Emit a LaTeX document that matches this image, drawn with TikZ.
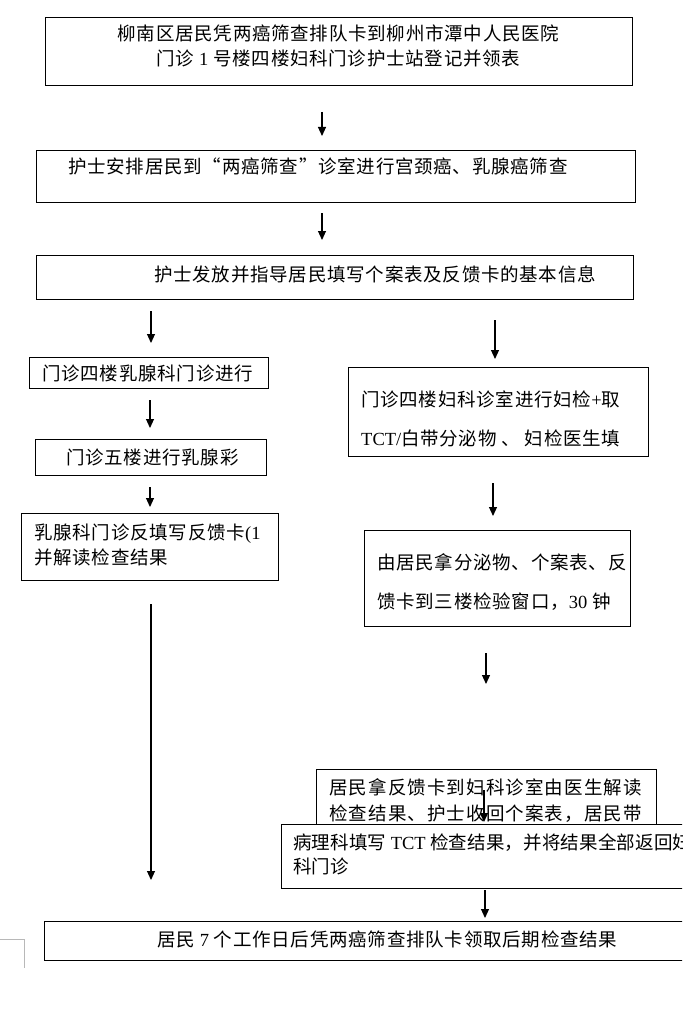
\documentclass[tikz,border=0pt]{standalone}
\usepackage{fontspec}
\setmainfont{Noto Sans CJK SC}[LetterSpace=4]
\newfontfamily\latf{Liberation Serif}
\newcommand\lat[1]{{\latf #1}}
\usetikzlibrary{arrows.meta}
\begin{document}
\begin{tikzpicture}[x=1pt,y=-1pt,
  box/.style={draw, line width=1.1pt, fill=white, inner sep=0pt, anchor=north west},
  txt/.style={inner sep=0pt, anchor=base west, font=\fontsize{18.5}{22}\selectfont},
  ctxt/.style={txt, anchor=base},
  widetxt/.style={txt, font=\fontsize{18.5}{22}\selectfont\addfontfeature{LetterSpace=6}},
  narrowtxt/.style={txt, font=\fontsize{18.5}{22}\selectfont\addfontfeature{LetterSpace=1}},
  arr/.style={-{Triangle[length=9pt,width=8pt]}, line width=1.1pt},
  cornermark/.style={draw=black!28, line width=0.8pt}]
\useasboundingbox (0,0) rectangle (682,1027);
\clip (0,0) rectangle (682,1027);
\fill[white] (0,0) rectangle (682,1027);

% top boxes
\node[box, minimum width=587pt, minimum height=68pt] (b1) at (45,17) {};
\node[ctxt] (t1a) at (338.5,41) {柳南区居民凭两癌筛查排队卡到柳州市潭中人民医院};
\node[ctxt] (t1b) at (338.5,66) {门诊 \lat{1} 号楼四楼妇科门诊护士站登记并领表};

\node[box, minimum width=599pt, minimum height=52pt] (b2) at (36,150) {};
\node[txt] (t2) at (68,174) {护士安排居民到“两癌筛查”诊室进行宫颈癌、乳腺癌筛查};

\node[box, minimum width=597pt, minimum height=44pt] (b3) at (36,255) {};
\node[txt] (t3) at (154,281) {护士发放并指导居民填写个案表及反馈卡的基本信息};

% left column
\node[box, minimum width=239pt, minimum height=31pt] (l1) at (29,357) {};
\node[txt] (tl1) at (42,380) {门诊四楼乳腺科门诊进行};

\node[box, minimum width=231pt, minimum height=36pt] (l2) at (35,439) {};
\node[txt] (tl2) at (66,464) {门诊五楼进行乳腺彩};

\node[box, minimum width=257pt, minimum height=67pt] (l3) at (21,513) {};
\node[txt] (tl3a) at (34,539) {乳腺科门诊反填写反馈卡\lat{(1}};
\node[txt] (tl3b) at (34,564) {并解读检查结果};

% right column
\node[box, minimum width=300pt, minimum height=89pt] (r1) at (348,367) {};
\node[txt] (tr1a) at (361,406) {门诊四楼妇科诊室进行妇检\lat{+}取};
\node[txt] (tr1b) at (361,445) {\lat{TCT/}白带分泌物 、 妇检医生填};

\node[box, minimum width=266pt, minimum height=96pt] (r2) at (364,530) {};
\node[txt] (tr2a) at (377,569) {由居民拿分泌物、个案表、反};
\node[txt] (tr2b) at (377,608) {馈卡到三楼检验窗口，\lat{30} 钟};

\node[box, minimum width=340pt, minimum height=70pt] (r3) at (316,769) {};
\node[widetxt] (tr3a) at (329,794) {居民拿反馈卡到妇科诊室由医生解读};
\node[widetxt] (tr3b) at (329,820) {检查结果、护士收回个案表，居民带};

\node[box, minimum width=440pt, minimum height=64pt] (r4) at (281,824) {};
\node[narrowtxt] (tr4a) at (293,849) {病理科填写 \lat{TCT} 检查结果，并将结果全部返回妇};
\node[narrowtxt] (tr4b) at (293,873) {科门诊};

% bottom box
\node[box, minimum width=700pt, minimum height=39pt] (bt) at (44,921) {};
\node[txt] (tb) at (157,946) {居民 \lat{7} 个工作日后凭两癌筛查排队卡领取后期检查结果};

% arrows (free-standing, as in the reference)
\coordinate (a1s) at (322,112); \coordinate (a1e) at (322,136);
\coordinate (a2s) at (322,213); \coordinate (a2e) at (322,240);
\coordinate (aL0s) at (151,311); \coordinate (aL0e) at (151,343);
\coordinate (aR0s) at (495,320); \coordinate (aR0e) at (495,359);
\coordinate (aL1s) at (150,400); \coordinate (aL1e) at (150,428);
\coordinate (aL2s) at (150,487); \coordinate (aL2e) at (150,507);
\coordinate (aL3s) at (151,604); \coordinate (aL3e) at (151,880);
\coordinate (aR1s) at (493,483); \coordinate (aR1e) at (493,516);
\coordinate (aR2s) at (486,653); \coordinate (aR2e) at (486,684);
\coordinate (aR3s) at (484,790); \coordinate (aR3e) at (484,822);
\coordinate (aR4s) at (485,890); \coordinate (aR4e) at (485,918);
\foreach \a in {a1,a2,aL0,aR0,aL1,aL2,aL3,aR1,aR2,aR3,aR4}
  \draw[arr] (\a s) -- (\a e);

% corner mark
\coordinate (m1) at (0,939); \coordinate (m2) at (24,939); \coordinate (m3) at (24,968);
\draw[cornermark] (m1) -- (m2) -- (m3);
\end{tikzpicture}
\end{document}
